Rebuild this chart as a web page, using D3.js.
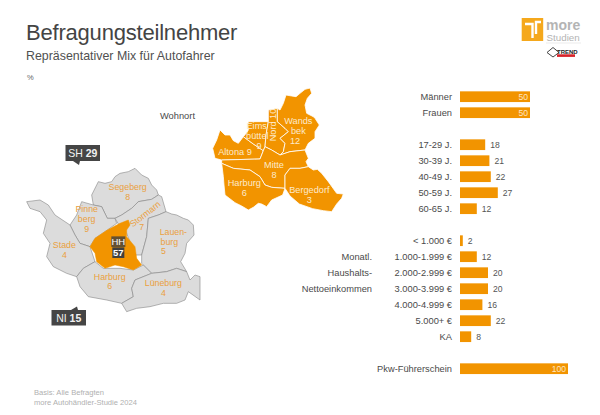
<!DOCTYPE html>
<html lang="de">
<head>
<meta charset="UTF-8">
<title>Befragungsteilnehmer</title>
<script src="https://d3js.org/d3.v7.min.js"></script>
<style>
  html, body { margin: 0; padding: 0; background: #fff; }
  svg { display: block; }
  text { font-family: "Liberation Sans", Arial, sans-serif; }
</style>
</head>
<body>
<svg id="chart" width="600" height="415"></svg>
<script>
// bar chart data
const genderCats = ['Männer', 'Frauen']
const genderVals = [50, 50]
const ageCats = ['17-29 J.', '30-39 J.', '40-49 J.', '50-59 J.', '60-65 J.']
const ageVals = [18, 21, 22, 27, 12]
const incomeCats = ['< 1.000 €', '1.000-1.999 €', '2.000-2.999 €', '3.000-3.999 €', '4.000-4.999 €', '5.000+ €', 'KA']
const incomeVals = [2, 12, 20, 20, 16, 22, 8]
const licenceCats = ['Pkw-Führerschein']
const licenceVals = [100]
const incomeTitle = ['Monatl.', 'Haushalts-', 'Nettoeinkommen']

// map data
const hhNames = [['Altona'], ['Eims', 'büttel'], ['Nord'], ['Wands', 'bek'], ['Mitte'], ['Harburg'], ['Bergedorf']]
const hhVals = [9, 9, 10, 12, 8, 6, 3]
const areaNames = [['Segeberg'], ['Pinne', 'berg'], ['Stade'], ['Stormarn'], ['Lauen-', 'burg'], ['Harburg'], ['Lüneburg']]
const areaVals = [8, 9, 4, 7, 5, 6, 4]
const callouts = [['SH', 29], ['NI', 15]]
const hhTotal = ['HH', 57]

// outlines, traced in a 3x grid of the map's own box
const hhShapes = [
  [[65,240],[45,235],[38,205],[50,180],[60,150],[75,165],[90,165],[100,182],[115,190],[130,170],[160,192],[190,212],[180,237]],
  [[130,170],[140,158],[145,150],[143,135],[145,125],[205,125],[198,165],[195,200],[190,212],[160,192]],
  [[205,125],[205,90],[232,85],[232,125],[255,145],[265,155],[240,175],[255,190],[250,215],[240,225],[215,210],[195,200],[198,165]],
  [[232,85],[240,90],[250,70],[258,45],[275,48],[288,50],[300,40],[315,28],[330,24],[335,40],[322,55],[315,75],[320,100],[340,110],[345,115],[358,135],[345,155],[345,175],[325,190],[315,210],[270,215],[240,225],[250,215],[255,190],[240,175],[265,155],[255,145],[232,125]],
  [[65,240],[180,237],[190,212],[195,200],[215,210],[240,225],[270,215],[315,210],[325,235],[318,245],[325,260],[300,265],[270,265],[255,285],[255,325],[215,322],[195,315],[180,290],[150,270],[100,265],[65,250]],
  [[65,250],[100,265],[150,270],[180,290],[195,315],[215,322],[255,325],[248,345],[215,360],[200,380],[185,372],[175,370],[160,382],[145,390],[125,378],[105,368],[75,345],[72,315],[70,290]],
  [[255,325],[255,285],[270,265],[300,265],[325,260],[340,270],[352,268],[365,280],[385,305],[410,340],[430,342],[425,355],[410,372],[395,395],[370,392],[338,386],[298,372],[270,348]]
]
const areaShapes = [
  [[235,125],[255,130],[275,125],[285,110],[300,100],[325,95],[345,85],[365,105],[385,115],[395,135],[410,150],[415,165],[395,178],[355,185],[335,205],[305,225],[285,235],[262,235],[245,200],[220,195],[215,165]],
  [[150,255],[170,225],[185,185],[220,195],[245,200],[262,235],[285,235],[290,250],[262,270],[225,295],[210,320],[180,310],[165,285]],
  [[20,185],[60,180],[85,195],[105,225],[150,255],[165,285],[180,310],[210,320],[225,365],[190,385],[170,410],[140,400],[100,380],[80,350],[90,310],[70,280],[80,240],[60,215],[30,205]],
  [[285,235],[305,225],[335,205],[355,185],[395,178],[415,165],[425,170],[438,215],[415,225],[385,235],[380,290],[365,345],[345,345],[320,280],[300,260]],
  [[385,235],[415,225],[438,215],[455,222],[470,225],[490,235],[505,240],[520,255],[522,285],[500,310],[495,340],[482,365],[500,395],[470,385],[440,395],[395,400],[365,370],[365,345],[380,290]],
  [[225,365],[250,385],[300,385],[340,390],[370,375],[395,400],[345,420],[335,445],[340,470],[305,490],[260,480],[205,470],[180,440],[170,410],[190,385]],
  [[395,400],[440,395],[470,385],[500,395],[510,420],[525,405],[540,410],[540,480],[505,455],[495,480],[470,490],[430,490],[390,500],[350,505],[320,515],[305,490],[340,470],[335,445],[345,420]]
]
const hhSmallShape = [[325,240],[330,255],[320,270],[320,290],[345,320],[350,355],[365,375],[340,390],[310,380],[285,375],[255,385],[230,365],[225,340],[210,320],[225,295],[262,270],[300,250]]

// label anchors, one per text line
const hhAnchors = [[[105,215]], [[170,138],[172,168],[177,198]], [[218,135]], [[295,122],[295,152],[285,182]], [[222,254],[222,284]], [[133,307],[133,337]], [[328,328],[328,358]]]
const areaAnchors = [[[323,142],[323,170]], [[200,208],[200,238],[200,267]], [[133,315],[133,344]], [[375,222],[365,262]], [[460,276],[448,305],[430,334]], [[269,410],[269,439]], [[430,430],[430,458]]]

const orange = '#f29400'
const textGrey = '#4a4a4a'
const svg = d3.select('#chart')

// header
svg.append('text').attr('x', 26).attr('y', 40).attr('font-size', 22).attr('letter-spacing', -0.2)
  .attr('fill', '#444').text('Befragungsteilnehmer')
svg.append('text').attr('x', 26).attr('y', 60).attr('font-size', 12.4).attr('fill', '#505050')
  .text('Repräsentativer Mix für Autofahrer')
svg.append('text').attr('x', 27).attr('y', 80).attr('font-size', 7.5).attr('fill', '#666').text('%')
svg.append('text').attr('x', 160).attr('y', 119).attr('font-size', 9.3).attr('fill', textGrey).text('Wohnort')

// footer
svg.selectAll('text.foot').data(['Basis: Alle Befragten', 'more Autohändler-Studie 2024']).join('text')
  .attr('class', 'foot').attr('x', 34).attr('y', (d, i) => 395 + i * 9.7)
  .attr('font-size', 7.6).attr('fill', '#b0b0b0').text(d => d)

// bars: one band per row, empty rows split the groups
const rows = [...genderCats, 'gap1', ...ageCats, 'gap2', ...incomeCats, 'gap3', ...licenceCats]
const vals = [...genderVals, ...ageVals, ...incomeVals, ...licenceVals]
const cats = [...genderCats, ...ageCats, ...incomeCats, ...licenceCats]
const barData = cats.map((c, i) => ({ cat: c, val: vals[i] }))

const y = d3.scaleBand().domain(rows).range([88.7, 376.7]).paddingInner(0.33).paddingOuter(0.165)
// the 100 bar is cut short in the original, hence the bent scale
const x = d3.scaleLinear().domain([0, 50, 100]).range([460, 530, 568])

const bars = svg.append('g')
bars.selectAll('rect').data(barData).join('rect')
  .attr('x', x(0)).attr('y', d => y(d.cat))
  .attr('width', d => x(d.val) - x(0)).attr('height', y.bandwidth())
  .attr('fill', orange)
bars.selectAll('text.cat').data(barData).join('text')
  .attr('class', 'cat').attr('x', 452).attr('y', d => y(d.cat) + y.bandwidth() / 2).attr('dy', '.35em')
  .attr('text-anchor', 'end').attr('font-size', 9.3).attr('fill', textGrey).text(d => d.cat)
bars.selectAll('text.val').data(barData).join('text')
  .attr('class', 'val')
  .attr('x', d => d.val >= 50 ? x(d.val) - 2 : x(d.val) + 5)
  .attr('y', d => y(d.cat) + y.bandwidth() / 2).attr('dy', '.35em')
  .attr('text-anchor', d => d.val >= 50 ? 'end' : 'start')
  .attr('font-size', 8.6).attr('fill', d => d.val >= 50 ? '#fde6c2' : '#555').text(d => d.val)

svg.selectAll('text.inc').data(incomeTitle).join('text')
  .attr('class', 'inc').attr('x', 372).attr('y', (d, i) => y(incomeCats[i + 1]) + y.bandwidth() / 2).attr('dy', '.35em')
  .attr('text-anchor', 'end').attr('font-size', 9.3).attr('fill', textGrey).text(d => d)

// maps
const hhX = d3.scaleLinear().domain([0, 450]).range([200, 350])
const hhY = d3.scaleLinear().domain([0, 420]).range([80, 220])
const areaX = d3.scaleLinear().domain([0, 540]).range([20, 200])
const areaY = d3.scaleLinear().domain([0, 570]).range([140, 330])
const hhLine = d3.line().x(d => hhX(d[0])).y(d => hhY(d[1])).curve(d3.curveLinearClosed)
const areaLine = d3.line().x(d => areaX(d[0])).y(d => areaY(d[1])).curve(d3.curveLinearClosed)

function regionLabels(g, names, values, anchors, sx, sy, size, color) {
  names.forEach((name, i) => {
    const pts = anchors[i]
    const lines = pts.length === 1 ? [name.concat(values[i]).join(' ')] : name.concat(values[i])
    lines.forEach((t, j) => {
      const isStormarn = t === 'Stormarn'
      const isNord = pts.length === 1 && name[0] === 'Nord'
      const rot = isStormarn ? -38 : isNord ? -90 : 0
      g.append('text')
        .attr('transform', `translate(${sx(pts[j][0])},${sy(pts[j][1])}) rotate(${rot})`)
        .attr('dy', '.35em').attr('text-anchor', 'middle')
        .attr('font-size', size).attr('fill', color).text(t)
    })
  })
}

const hhG = svg.append('g')
hhG.selectAll('path').data(hhShapes).join('path')
  .attr('d', hhLine).attr('fill', orange).attr('stroke', '#fff').attr('stroke-width', 0.8).attr('stroke-linejoin', 'round')
regionLabels(hhG, hhNames, hhVals, hhAnchors, hhX, hhY, 9.2, '#fdeacb')

const areaG = svg.append('g')
areaG.selectAll('path').data(areaShapes).join('path')
  .attr('d', areaLine).attr('fill', '#dcdcdc').attr('stroke', '#858585').attr('stroke-width', 0.6).attr('stroke-linejoin', 'round')
areaG.append('path').datum(hhSmallShape).attr('d', areaLine).attr('fill', orange).attr('stroke', orange).attr('stroke-width', 0.5)
regionLabels(areaG, areaNames, areaVals, areaAnchors, areaX, areaY, 8.8, '#eaa040')

// HH total badge
const badgeG = svg.append('g')
hhTotal.forEach((t, i) => {
  const cy = areaY(i === 0 ? 305 : 338)
  const w = i === 0 ? 14 : 12
  badgeG.append('rect').attr('x', areaX(295) - w / 2).attr('y', cy - 5.3).attr('width', w).attr('height', 10.6)
    .attr('fill', '#3f3f3f').attr('fill-opacity', i === 0 ? 0.8 : 1)
  badgeG.append('text').attr('x', areaX(295)).attr('y', cy).attr('dy', '.35em').attr('text-anchor', 'middle')
    .attr('font-size', 9.5).attr('font-weight', i === 0 ? 'normal' : 'bold').attr('fill', '#fff').text(t)
})

// SH / NI callouts
const calloutBox = [{ x: 65.5, y: 145, w: 34.5, h: 16, tipY: 165, tipX: 80 }, { x: 51.5, y: 310, w: 34.5, h: 15.5, tipY: 306.5, tipX: 78 }]
callouts.forEach((c, i) => {
  const b = calloutBox[i]
  const g = svg.append('g')
  g.append('rect').attr('x', b.x).attr('y', b.y).attr('width', b.w).attr('height', b.h).attr('fill', '#454545')
  const base = i === 0 ? b.y + b.h : b.y
  g.append('path').attr('d', d3.line()([[b.tipX - 7, base], [b.tipX, base], [b.tipX - 1, b.tipY]])).attr('fill', '#454545')
  const t = g.append('text').attr('x', b.x + b.w / 2).attr('y', b.y + b.h / 2).attr('dy', '.36em')
    .attr('text-anchor', 'middle').attr('font-size', 10.5).attr('fill', '#f2f2f2')
  t.append('tspan').text(c[0] + ' ')
  t.append('tspan').attr('font-weight', 'bold').text(c[1])
})

// logo
const logo = svg.append('g')
logo.append('rect').attr('x', 521.7).attr('y', 18).attr('width', 21.5).attr('height', 23).attr('fill', '#f5a81c')
logo.append('path').attr('d', 'M525 24H532.5V38').attr('fill', 'none').attr('stroke', '#fff').attr('stroke-width', 2.4)
logo.append('path').attr('d', 'M541 22H536V34').attr('fill', 'none').attr('stroke', '#fff').attr('stroke-width', 2.4)
logo.append('text').attr('x', 546).attr('y', 29.5).attr('font-size', 14).attr('font-weight', 'bold').attr('fill', '#b4b4b4').text('more')
logo.append('text').attr('x', 546.5).attr('y', 40.5).attr('font-size', 9.8).attr('fill', '#b4b4b4').text('Studien')
logo.append('line').attr('x1', 546).attr('x2', 581).attr('y1', 43).attr('y2', 43).attr('stroke', '#ddd').attr('stroke-width', 0.6)
logo.append('path').attr('d', 'M553 47.5L559 52.5L553 57L547 52.5Z').attr('fill', 'none').attr('stroke', '#444').attr('stroke-width', 1)
logo.append('text').attr('x', 557).attr('y', 53.5).attr('font-size', 6).attr('font-weight', 'bold').attr('fill', '#222').text('TREND')
logo.append('rect').attr('x', 557).attr('y', 54.3).attr('width', 18).attr('height', 2.6).attr('fill', '#d8232a')
</script>
</body>
</html>
